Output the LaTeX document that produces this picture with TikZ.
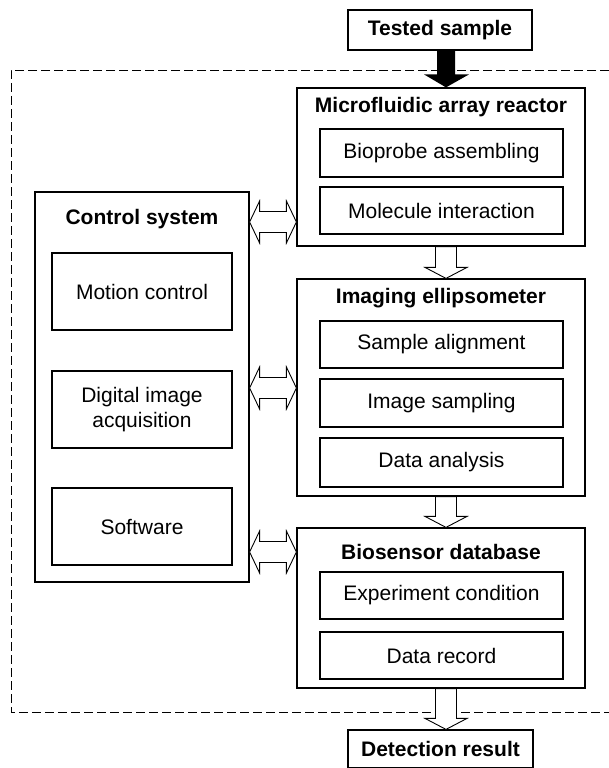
\documentclass[tikz,border=0pt]{standalone}
\usepackage{fontspec}
\setmainfont{Liberation Sans}
\usetikzlibrary{calc}
\tikzset{
  frame/.style={draw, line width=1.2pt, inner sep=0pt, fill=white},
  ttl/.style={inner sep=0pt, font=\fontsize{21}{25}\selectfont\bfseries},
  item/.style={draw, line width=1.2pt, inner sep=0pt, align=center, font=\fontsize{21}{25}\selectfont},
  harrow/.style={draw, line width=0.9pt, fill=white, line join=miter},
  dashframe/.style={line width=0.9pt, dash pattern=on 9pt off 4pt}
}
\newcommand\dblarrow[2]{%
  \draw[harrow] (#1) -- ++(10,-21) -- ++(0,10.5) -- ($(#2)+(-10,-10.5)$) -- ++(0,-10.5) -- (#2)
    -- ++(-10,21) -- ++(0,-10.5) -- ($(#1)+(10,10.5)$) -- ++(0,10.5) -- cycle;}
\newcommand\downarr[2]{%
  \draw[harrow] ($(#1)+(-10.5,0)$) -- ($(#2)+(-10.5,-11)$) -- ($(#2)+(-21,-11)$) -- (#2)
    -- ($(#2)+(21,-11)$) -- ($(#2)+(10.5,-11)$) -- ($(#1)+(10.5,0)$) -- cycle;}
\begin{document}
\begin{tikzpicture}[x=1pt,y=-1pt]
\useasboundingbox (0,0) rectangle (609,768);
% dashed system frame
\coordinate (dTR) at (609,70);
\coordinate (dTL) at (11,70);
\coordinate (dBL) at (11,712);
\coordinate (dBR) at (609,712);
\draw[dashframe] (dTR) -- (dTL) -- (dBL) -- (dBR);

% input / output
\node[item, font=\fontsize{21}{25}\selectfont\bfseries, minimum width=184pt, minimum height=40pt] (tested) at (440,30) {Tested sample};
\node[item, font=\fontsize{21}{25}\selectfont\bfseries, minimum width=185pt, minimum height=38pt] (detection) at (440.5,749) {Detection result};

% right column
\node[frame, minimum width=288pt, minimum height=158pt] (micro) at (441,167) {};
\node[ttl] (microT) at (441,107) {Microfluidic array reactor};
\node[item, minimum width=243pt, minimum height=48pt] (bioprobe) at (441.5,153) {Bioprobe assembling};
\node[item, minimum width=243pt, minimum height=47pt] (molecule) at (441.5,210.5) {Molecule interaction};

\node[frame, minimum width=288pt, minimum height=217pt] (imaging) at (441,387.5) {};
\node[ttl] (imagingT) at (441,298) {Imaging ellipsometer};
\node[item, minimum width=243pt, minimum height=47pt] (sample) at (441.5,344.5) {Sample alignment};
\node[item, minimum width=243pt, minimum height=48pt] (sampling) at (441.5,403) {Image sampling};
\node[item, minimum width=243pt, minimum height=49pt] (analysis) at (441.5,462.5) {Data analysis};

\node[frame, minimum width=288pt, minimum height=160pt] (biosensor) at (441,608) {};
\node[ttl] (biosensorT) at (441,552) {Biosensor database};
\node[item, minimum width=243pt, minimum height=47pt] (experiment) at (441.5,595.5) {Experiment condition};
\node[item, minimum width=243pt, minimum height=47pt] (record) at (441.5,655.5) {Data record};

% left column
\node[frame, minimum width=214pt, minimum height=390pt] (ctrl) at (142,387) {};
\node[ttl] (ctrlT) at (142,219) {Control system};
\node[item, minimum width=180pt, minimum height=77pt] (motion) at (142,291.5) {Motion control};
\node[item, minimum width=180pt, minimum height=77pt] (digital) at (142,409.5) {Digital image\\acquisition};
\node[item, minimum width=180pt, minimum height=77pt] (software) at (142,526.5) {Software};

% black input arrow
\coordinate (bT) at ($(tested.south)+(6,0)$);
\coordinate (bB) at ($(micro.north)+(5,0)$);
\fill ($(bT)+(-9,0)$) -- ($(bB)+(-9,-13)$) -- ($(bB)+(-22,-13)$) -- (bB) -- ($(bB)+(23,-13)$) -- ($(bB)+(9,-13)$) -- ($(bT)+(9,0)$) -- cycle;

% hollow down arrows
\downarr{$(micro.south)+(5,0)$}{$(imaging.north)+(5,0)$}
\downarr{$(imaging.south)+(5,0)$}{$(biosensor.north)+(5,0)$}
\downarr{$(biosensor.south)+(5,0)$}{$(detection.north)+(5.5,0)$}

% double arrows
\dblarrow{ctrl.east |- 0,222}{micro.west |- 0,222}
\dblarrow{ctrl.east |- 0,388}{imaging.west |- 0,388}
\dblarrow{ctrl.east |- 0,552}{biosensor.west |- 0,552}
\end{tikzpicture}
\end{document}
